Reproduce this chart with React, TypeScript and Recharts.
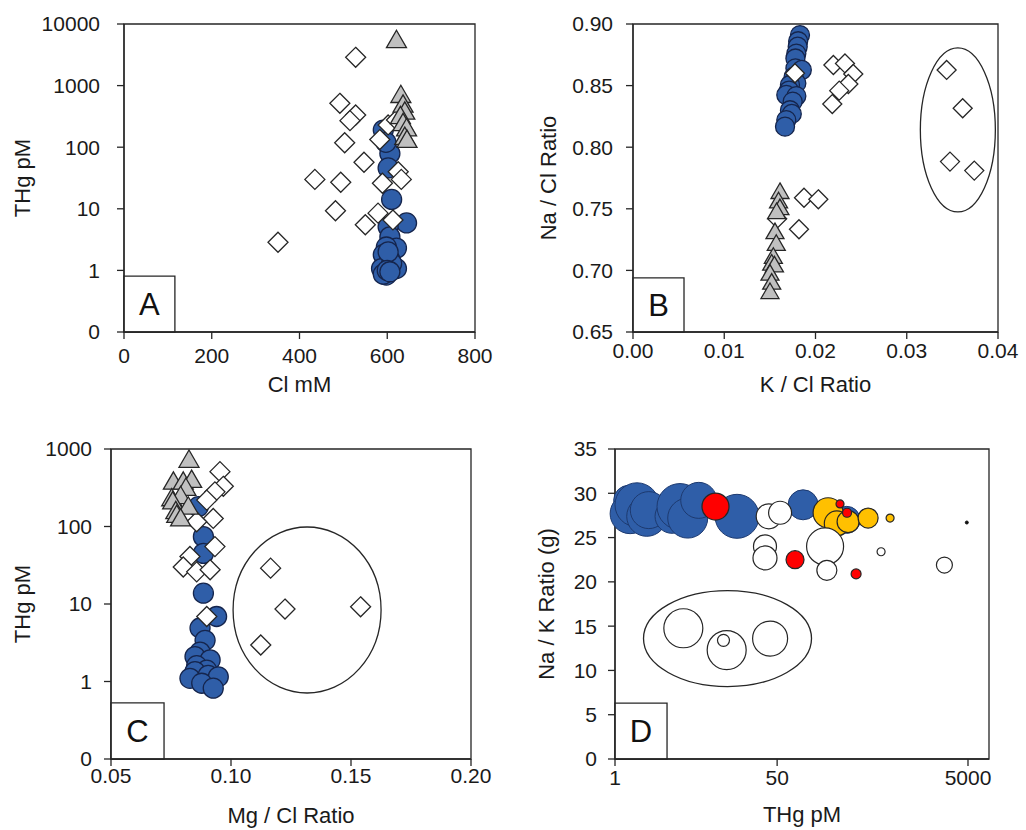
import React from "react";
import {
  ScatterChart,
  Scatter,
  XAxis,
  YAxis,
  ZAxis,
  ReferenceArea,
  ReferenceDot,
} from "recharts";

// ---- Panel A: Cl mM vs THg pM ----
const aCircles = [
  [606, 79], [602, 46], [591, 190], [597, 120], [610, 14.2], [644, 5.9], [602, 5.1],
  [606, 3.5], [621, 2.3], [598, 2.4], [591, 1.8], [606, 1.5], [587, 1.07], [610, 1.1],
  [621, 1.07], [598, 0.84], [591, 0.87], [610, 1.3], [602, 2.0], [600, 1.0], [606, 0.95],
];
const aDiamonds = [
  [528, 2880], [492, 516], [528, 333], [515, 270], [503, 118], [547, 57], [435, 30],
  [494, 27], [482, 9.3], [351, 2.86], [550, 5.5], [579, 8.5], [589, 26], [583, 133],
  [602, 230], [621, 277], [625, 40], [632, 30], [613, 6.6],
];
const aTriangles = [
  [621, 5150], [631, 660], [636, 460], [640, 355], [630, 300], [636, 230], [644, 190],
  [640, 138], [645, 123],
];

// ---- Panel B: K/Cl vs Na/Cl ----
const bCircles = [
  [0.0183, 0.891], [0.0181, 0.886], [0.01805, 0.8816], [0.0179, 0.876], [0.0178, 0.872],
  [0.0178, 0.864], [0.0185, 0.8627], [0.0176, 0.857], [0.0179, 0.852], [0.0172, 0.8505],
  [0.0171, 0.846], [0.0168, 0.8424], [0.0179, 0.8415], [0.0175, 0.837], [0.0172, 0.83],
  [0.0174, 0.827], [0.0168, 0.822], [0.01666, 0.8167],
];
const bDiamonds = [
  [0.01775, 0.86], [0.02196, 0.8667], [0.02323, 0.868], [0.02414, 0.8594], [0.0236, 0.8513],
  [0.0226, 0.8459], [0.02184, 0.835], [0.03437, 0.8627], [0.03613, 0.8316], [0.03474, 0.7883],
  [0.0374, 0.781], [0.01874, 0.759], [0.02031, 0.7577], [0.01819, 0.7334], [0.0158, 0.742],
];
const bTriangles = [
  [0.01611, 0.7626], [0.01595, 0.755], [0.0161, 0.7495], [0.01574, 0.7463], [0.01556, 0.73],
  [0.0157, 0.7205], [0.01538, 0.71], [0.0152, 0.7045], [0.0155, 0.703], [0.01501, 0.6963],
  [0.0152, 0.689], [0.01501, 0.6814],
];

// ---- Panel C: Mg/Cl vs THg pM ----
const cCircles = [
  [0.0864, 180], [0.0885, 74], [0.0885, 45], [0.0885, 13.8], [0.094, 6.9], [0.0871, 4.9],
  [0.0892, 3.4], [0.0871, 2.4], [0.085, 2.1], [0.0913, 1.9], [0.0857, 1.6], [0.0899, 1.4],
  [0.085, 1.34], [0.0905, 1.2], [0.0829, 1.1], [0.0947, 1.15], [0.0878, 0.95], [0.0926, 0.82],
];
const cDiamonds = [
  [0.0954, 510], [0.0968, 330], [0.0933, 280], [0.0899, 219], [0.0926, 127], [0.0857, 115],
  [0.0933, 55], [0.0829, 41], [0.0801, 30], [0.0857, 26], [0.0913, 27.6], [0.0899, 6.9],
  [0.1165, 29], [0.1225, 8.6], [0.154, 9.2], [0.1124, 2.96],
];
const cTriangles = [
  [0.0825, 690], [0.076, 360], [0.0801, 360], [0.0836, 380], [0.0812, 300], [0.0753, 220],
  [0.079, 235], [0.0757, 200], [0.0822, 172], [0.077, 150], [0.0774, 134], [0.079, 121],
];

// ---- Panel D: THg pM vs Na/K, bubble size ----
const dBlue = [
  [1.39, 29.2, 900], [1.44, 27.7, 1600], [1.7, 28.7, 1936], [2.15, 27.4, 1600],
  [2.26, 28.1, 1369], [3.96, 27.4, 1156], [4.8, 28.5, 2116], [5.78, 27.2, 1600],
  [7.54, 29.2, 1296], [19, 27.4, 1936], [93.5, 28.7, 900], [268, 27.0, 729],
];
const dYellow = [
  [171, 27.8, 900], [211, 26.6, 625], [277, 26.8, 484], [449, 27.2, 400], [763, 27.2, 64],
];
const dWhite = [
  [40.8, 27.4, 625], [53.7, 27.8, 529], [37.3, 24.0, 529], [37.3, 22.7, 576], [159, 24.0, 1369],
  [166, 21.3, 400], [614, 23.4, 64], [2830, 21.9, 256],
  [5.2, 14.76, 1521], [14.8, 12.3, 1521], [13.7, 13.4, 144], [42.2, 13.6, 1225],
];
const dRed = [
  [11.3, 28.5, 729], [77, 22.5, 324], [228, 28.8, 64], [270, 27.8, 81], [336, 20.9, 100],
];
const dBlack = [[4860, 26.7, 9]];

const aXTicks = [0, 200, 400, 600, 800];
const aYTicks = [0.1, 1, 10, 100, 1000, 10000];
const bXTicks = [0, 0.01, 0.02, 0.03, 0.04];
const bYTicks = [0.65, 0.7, 0.75, 0.8, 0.85, 0.9];
const cXTicks = [0.05, 0.1, 0.15, 0.2];
const cYTicks = [0.1, 1, 10, 100, 1000];
const dXTicks = [1, 50, 5000];
const dYTicks = [0, 5, 10, 15, 20, 25, 30, 35];

const pts = (a: number[][]) => a.map(([x, y, z]) => ({ x, y, z }));

const INK = "#262626";
const BLUE = "#2f5ea8";
const BLUE_EDGE = "#15254d";
const TICK = { fontSize: 21, fill: "#1a1a1a" };
const TITLE = 22;
const logFmt = (v: number) => (v < 1 ? "0" : String(v));
const fix2 = (v: number) => v.toFixed(2);

const axisProps = {
  axisLine: { stroke: INK, strokeWidth: 1.3 },
  tickLine: { stroke: INK, strokeWidth: 1.3 },
  tickSize: 7,
  interval: 0 as const,
  tick: TICK,
};

const diamond = (s: number) => (p: any) =>
  p.cx == null ? <g /> : (
    <path
      d={`M${p.cx},${p.cy - s}L${p.cx + s},${p.cy}L${p.cx},${p.cy + s}L${p.cx - s},${p.cy}Z`}
      fill="#fff"
      stroke={INK}
      strokeWidth={1.3}
    />
  );
const triangle = (s: number) => (p: any) =>
  p.cx == null ? <g /> : (
    <path
      d={`M${p.cx},${p.cy - s * 1.15}L${p.cx + s},${p.cy + s * 0.58}L${p.cx - s},${p.cy + s * 0.58}Z`}
      fill="#c0c0c0"
      stroke={INK}
      strokeWidth={1.3}
    />
  );
const dot = (r: number) => (p: any) =>
  p.cx == null ? <g /> : (
    <circle cx={p.cx} cy={p.cy} r={r} fill={BLUE} stroke={BLUE_EDGE} strokeWidth={1.3} />
  );
const ellipse = (rx: number, ry: number) => (p: any) =>
  p.cx == null ? <g /> : (
    <ellipse cx={p.cx} cy={p.cy} rx={rx} ry={ry} fill="none" stroke={INK} strokeWidth={1.3} />
  );

const letter = (v: string) => ({ value: v, position: "center" as const, fontSize: 31, fill: "#111" });
const yTitle = (v: string, offset: number) => ({
  value: v,
  angle: -90,
  position: "insideLeft" as const,
  offset,
  fontSize: TITLE,
  fill: "#1a1a1a",
  style: { textAnchor: "middle" },
});
const xTitle = (v: string, offset: number) => ({
  value: v,
  position: "insideBottom" as const,
  offset,
  fontSize: TITLE,
  fill: "#1a1a1a",
});

export default function App() {
  return (
    <div
      style={{
        position: "absolute",
        left: 0,
        top: 0,
        width: 1026,
        height: 830,
        background: "#fff",
        fontFamily: "'Liberation Sans', Arial, sans-serif",
      }}
    >
      {/* A */}
      <div style={{ position: "absolute", left: 0, top: 0 }}>
        <ScatterChart width={500} height={410} margin={{ top: 24, right: 25, bottom: 5, left: 5 }}>
          <XAxis type="number" dataKey="x" domain={[0, 800]} ticks={aXTicks} height={73}
            tickMargin={9} {...axisProps} label={xTitle("Cl mM", 13)} />
          <YAxis type="number" dataKey="y" scale="log" domain={[0.1, 10000]} ticks={aYTicks}
            width={119} tickMargin={17} tickFormatter={logFmt} {...axisProps} label={yTitle("THg pM", 17)} />
          <ReferenceArea x1={0} x2={800} y1={0.1} y2={10000} fill="none" stroke={INK} strokeWidth={1.3} />
          <ReferenceArea x1={0} x2={116} y1={0.1} y2={0.81} fill="#fff" fillOpacity={1} stroke={INK}
            strokeWidth={1.3} label={letter("A")} />
          <Scatter data={pts(aCircles)} shape={dot(10)} isAnimationActive={false} />
          <Scatter data={pts(aDiamonds)} shape={diamond(10)} isAnimationActive={false} />
          <Scatter data={pts(aTriangles)} shape={triangle(10)} isAnimationActive={false} />
        </ScatterChart>
      </div>

      {/* B */}
      <div style={{ position: "absolute", left: 500, top: 0 }}>
        <ScatterChart width={526} height={410} margin={{ top: 24, right: 28, bottom: 5, left: 5 }}>
          <XAxis type="number" dataKey="x" domain={[0, 0.04]} ticks={bXTicks} height={73}
            tickMargin={4} tickFormatter={fix2} {...axisProps} label={xTitle("K / Cl Ratio", 13)} />
          <YAxis type="number" dataKey="y" domain={[0.65, 0.9]} ticks={bYTicks} width={128}
            tickMargin={13} tickFormatter={fix2} {...axisProps} label={yTitle("Na / Cl Ratio", 43)} />
          <ReferenceArea x1={0} x2={0.04} y1={0.65} y2={0.9} fill="none" stroke={INK} strokeWidth={1.3} />
          <ReferenceArea x1={0} x2={0.00559} y1={0.65} y2={0.694} fill="#fff" fillOpacity={1} stroke={INK}
            strokeWidth={1.3} label={letter("B")} />
          <Scatter data={pts(bCircles)} shape={dot(9.5)} isAnimationActive={false} />
          <Scatter data={pts(bDiamonds)} shape={diamond(9.5)} isAnimationActive={false} />
          <Scatter data={pts(bTriangles)} shape={triangle(9)} isAnimationActive={false} />
          <ReferenceDot x={0.0356} y={0.814} shape={ellipse(37.5, 82)} />
        </ScatterChart>
      </div>

      {/* C */}
      <div style={{ position: "absolute", left: 0, top: 420 }}>
        <ScatterChart width={500} height={410} margin={{ top: 29, right: 29, bottom: 5, left: 5 }}>
          <XAxis type="number" dataKey="x" domain={[0.05, 0.2]} ticks={cXTicks} height={66}
            tickMargin={2} tickFormatter={fix2} {...axisProps} label={xTitle("Mg / Cl Ratio", 2)} />
          <YAxis type="number" dataKey="y" scale="log" domain={[0.1, 1000]} ticks={cYTicks}
            width={106} tickMargin={12} tickFormatter={logFmt} {...axisProps} label={yTitle("THg pM", 17)} />
          <ReferenceArea x1={0.05} x2={0.2} y1={0.1} y2={1000} fill="none" stroke={INK} strokeWidth={1.3} />
          <ReferenceArea x1={0.05} x2={0.0721} y1={0.1} y2={0.53} fill="#fff" fillOpacity={1} stroke={INK}
            strokeWidth={1.3} label={letter("C")} />
          <Scatter data={pts(cCircles)} shape={dot(10)} isAnimationActive={false} />
          <Scatter data={pts(cDiamonds)} shape={diamond(10)} isAnimationActive={false} />
          <Scatter data={pts(cTriangles)} shape={triangle(10)} isAnimationActive={false} />
          <ReferenceDot x={0.1317} y={8.37} shape={ellipse(74, 83)} />
        </ScatterChart>
      </div>

      {/* D */}
      <div style={{ position: "absolute", left: 500, top: 420 }}>
        <ScatterChart width={526} height={410} margin={{ top: 29, right: 37, bottom: 5, left: 5 }}>
          <XAxis type="number" dataKey="x" scale="log" domain={[1, 8300]} ticks={dXTicks} height={66}
            tickMargin={4} {...axisProps} label={xTitle("THg pM", 3)} />
          <YAxis type="number" dataKey="y" domain={[0, 35]} ticks={dYTicks} width={110}
            tickMargin={11} {...axisProps} label={yTitle("Na / K Ratio (g)", 41)} />
          <ZAxis type="number" dataKey="z" domain={[0, 2500]} range={[0, (2500 * Math.PI) / 4]} />
          <ReferenceArea x1={1} x2={8300} y1={0} y2={35} fill="none" stroke={INK} strokeWidth={1.3} />
          <ReferenceArea x1={1} x2={3.51} y1={0} y2={6.3} fill="#fff" fillOpacity={1} stroke={INK}
            strokeWidth={1.3} label={letter("D")} />
          <Scatter data={pts(dBlue)} fill={BLUE} stroke="#1d3a70" strokeWidth={1} isAnimationActive={false} />
          <Scatter data={pts(dYellow)} fill="#ffc000" stroke={INK} strokeWidth={1.2} isAnimationActive={false} />
          <Scatter data={pts(dWhite)} fill="#fff" stroke={INK} strokeWidth={1.2} isAnimationActive={false} />
          <Scatter data={pts(dRed)} fill="#ff0000" stroke={INK} strokeWidth={1.2} isAnimationActive={false} />
          <Scatter data={pts(dBlack)} fill="#111" stroke="#111" isAnimationActive={false} />
          <ReferenceDot x={15.1} y={13.6} shape={ellipse(84, 48)} />
        </ScatterChart>
      </div>
    </div>
  );
}
